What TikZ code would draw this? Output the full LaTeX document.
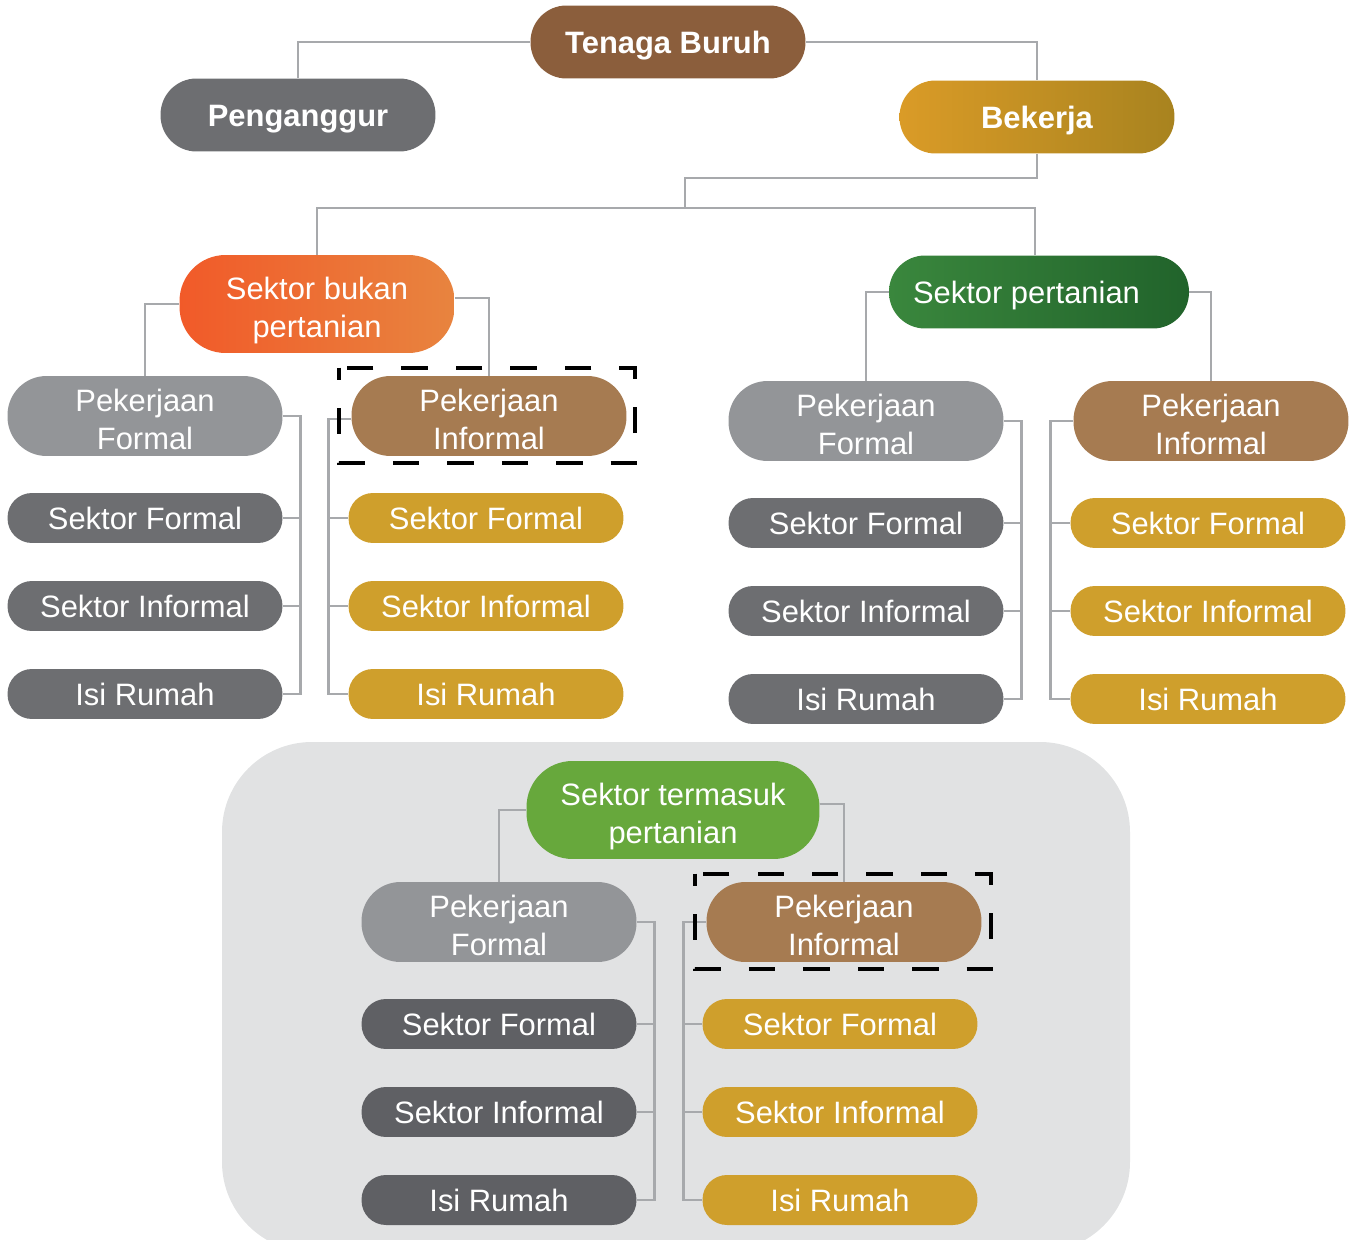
\documentclass[tikz,border=0pt]{standalone}
\usepackage{fontspec}
\setmainfont{Liberation Sans}
\usetikzlibrary{calc}
\definecolor{cTB}{HTML}{8B5E3C}
\definecolor{cPG}{HTML}{6D6E71}
\definecolor{cBKl}{HTML}{DA9B27}
\definecolor{cBKr}{HTML}{A8831F}
\definecolor{cSBl}{HTML}{F15A29}
\definecolor{cSBr}{HTML}{E8843F}
\definecolor{cSPl}{HTML}{3A873D}
\definecolor{cSPr}{HTML}{21632B}
\definecolor{cPF}{HTML}{939598}
\definecolor{cPI}{HTML}{A67B51}
\definecolor{cDK}{HTML}{6D6E71}
\definecolor{cDK2}{HTML}{5F6064}
\definecolor{cGD}{HTML}{CF9F2C}
\definecolor{cST}{HTML}{67A83C}
\definecolor{cPanel}{HTML}{E1E2E3}
\definecolor{cLine}{HTML}{A7A9AC}
\begin{document}
\begin{tikzpicture}[x=0.02cm,y=-0.02cm,
  box/.style={text=white, align=center, inner sep=0pt, minimum width=5.5cm,
    font=\fontsize{17.6}{22}\selectfont},
  oneline/.style={text height=12.6pt, text depth=0pt},
  twoline/.style={text height=38.6pt, text depth=0pt},
  topbox/.style={box, oneline, minimum height=1.46cm, rounded corners=0.72cm,
    font=\fontsize{17.6}{22}\selectfont\bfseries},
  sectbox/.style={box, twoline, minimum height=1.96cm, rounded corners=0.92cm},
  bigbox/.style={box, twoline, minimum height=1.6cm, rounded corners=0.78cm},
  smallbox/.style={box, oneline, minimum height=1.0cm, rounded corners=0.49cm},
  conn/.style={draw=cLine, line width=1.6pt},
  dashbox/.style={draw=black, line width=2.4pt, dash pattern=on 15pt off 16pt, dash phase=8pt}
]
\useasboundingbox (0,0) rectangle (1357,1240);
% bottom panel
\fill[cPanel, rounded corners=1.8cm] (222,742) rectangle (1130,1252);

% top level
\node[topbox, fill=cTB] (tb) at (668,42) {Tenaga Buruh};
\node[topbox, fill=cPG] (pg) at (298,115) {Penganggur};
\node[topbox, left color=cBKl, right color=cBKr] (bk) at (1037,117) {Bekerja};

% sectors
\node[sectbox, left color=cSBl, right color=cSBr] (sb) at (317,304) {Sektor bukan\\pertanian};
\node[topbox, font=\fontsize{17.6}{22}\selectfont, minimum width=6cm, left color=cSPl, right color=cSPr] (sp) at (1039,292) {Sektor pertanian\hspace*{0.5cm}};

% left group (bukan pertanian)
\node[bigbox, fill=cPF] (pfA) at (145,416) {Pekerjaan\\Formal};
\node[bigbox, fill=cPI] (piA) at (489,416) {Pekerjaan\\Informal};
\node[smallbox, fill=cDK] (fA1) at (145,518) {Sektor Formal};
\node[smallbox, fill=cDK] (fA2) at (145,606) {Sektor Informal};
\node[smallbox, fill=cDK] (fA3) at (145,694) {Isi Rumah};
\node[smallbox, fill=cGD] (iA1) at (486,518) {Sektor Formal};
\node[smallbox, fill=cGD] (iA2) at (486,606) {Sektor Informal};
\node[smallbox, fill=cGD] (iA3) at (486,694) {Isi Rumah};

% right group (pertanian)
\node[bigbox, fill=cPF] (pfB) at (866,421) {Pekerjaan\\Formal};
\node[bigbox, fill=cPI] (piB) at (1211,421) {Pekerjaan\\Informal};
\node[smallbox, fill=cDK] (fB1) at (866,523) {Sektor Formal};
\node[smallbox, fill=cDK] (fB2) at (866,611) {Sektor Informal};
\node[smallbox, fill=cDK] (fB3) at (866,699) {Isi Rumah};
\node[smallbox, fill=cGD] (iB1) at (1208,523) {Sektor Formal};
\node[smallbox, fill=cGD] (iB2) at (1208,611) {Sektor Informal};
\node[smallbox, fill=cGD] (iB3) at (1208,699) {Isi Rumah};

% bottom group (termasuk pertanian)
\node[sectbox, minimum width=5.86cm, fill=cST] (st) at (673,810) {Sektor termasuk\\pertanian};
\node[bigbox, fill=cPF] (pfC) at (499,922) {Pekerjaan\\Formal};
\node[bigbox, fill=cPI] (piC) at (844,922) {Pekerjaan\\Informal};
\node[smallbox, fill=cDK2] (fC1) at (499,1024) {Sektor Formal};
\node[smallbox, fill=cDK2] (fC2) at (499,1112) {Sektor Informal};
\node[smallbox, fill=cDK2] (fC3) at (499,1200) {Isi Rumah};
\node[smallbox, fill=cGD] (iC1) at (840,1024) {Sektor Formal};
\node[smallbox, fill=cGD] (iC2) at (840,1112) {Sektor Informal};
\node[smallbox, fill=cGD] (iC3) at (840,1200) {Isi Rumah};

% connectors top
\draw[conn] (tb.west) -| (pg.north);
\draw[conn] (tb.east) -| (bk.north);
\coordinate (j1) at (1037,178);
\coordinate (j2) at (685,178);
\coordinate (j3) at (685,208);
\draw[conn] (bk.south) -- (j1) -- (j2) -- (j3);
\draw[conn] (sb.north) |- (j3) -| ([xshift=-0.08cm]sp.north);

% sector connectors
\draw[conn] (sb.west) -| (pfA.north);
\draw[conn] ([yshift=0.12cm]sb.east) -| (piA.north);
\draw[conn] (sp.west) -| (pfB.north);
\draw[conn] (sp.east) -| (piB.north);
\draw[conn] (st.west) -| (pfC.north);
\draw[conn] ([yshift=0.12cm]st.east) -| (piC.north);

% child buses
\draw[conn] (pfA.east) -| ($(fA3.east)+(18,0)$) -- (fA3.east);
\draw[conn] (fA1.east) -- ++(18,0);
\draw[conn] (fA2.east) -- ++(18,0);
\draw[conn] ([yshift=-0.06cm]piA.west) -| ($(iA3.west)+(-20,0)$) -- (iA3.west);
\draw[conn] (iA1.west) -- ++(-20,0);
\draw[conn] (iA2.west) -- ++(-20,0);

\draw[conn] (pfB.east) -| ($(fB3.east)+(18,0)$) -- (fB3.east);
\draw[conn] (fB1.east) -- ++(18,0);
\draw[conn] (fB2.east) -- ++(18,0);
\draw[conn] (piB.west) -| ($(iB3.west)+(-20,0)$) -- (iB3.west);
\draw[conn] (iB1.west) -- ++(-20,0);
\draw[conn] (iB2.west) -- ++(-20,0);

\draw[conn] (pfC.east) -| ($(fC3.east)+(18,0)$) -- (fC3.east);
\draw[conn] (fC1.east) -- ++(18,0);
\draw[conn] (fC2.east) -- ++(18,0);
\draw[conn] (piC.west) -| ($(iC3.west)+(-19,0)$) -- (iC3.west);
\draw[conn] (iC1.west) -- ++(-19,0);
\draw[conn] (iC2.west) -- ++(-19,0);

% dashed highlight boxes
\draw[dashbox] ($(piA.north west)+(-12,-8)$) rectangle ($(piA.south east)+(8,7)$);
\draw[dashbox] ($(piC.north west)+(-11,-8)$) rectangle ($(piC.south east)+(9,7)$);
\end{tikzpicture}
\end{document}
